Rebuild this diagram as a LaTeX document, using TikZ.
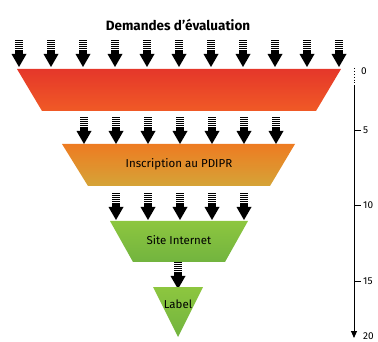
\documentclass[tikz,border=0pt]{standalone}
\usepackage{fontspec}
\setmainfont{Fira Sans}
\usetikzlibrary{arrows.meta}
\definecolor{redtop}{HTML}{E5372A}
\definecolor{redbot}{HTML}{F05A26}
\definecolor{orgtop}{HTML}{EE7B22}
\definecolor{orgbot}{HTML}{D5A437}
\definecolor{grntop}{HTML}{8DC63F}
\definecolor{grnbot}{HTML}{72B43F}
\tikzset{
  stagelabel/.style={font=\fontsize{11.5}{13}\selectfont, text=black, inner sep=0pt},
  ticklabel/.style={font=\fontsize{10}{12}\selectfont, anchor=west, inner sep=0pt},
  pics/flowarrow/.style={code={
    \foreach \yy in {0,2,4,6,8}{\fill[black] (-4,\yy) rectangle (4,\yy+1.1);}
    \fill[black] (-4,10) rectangle (4,14.5);
    \fill[black] (-7.5,14) -- (7.5,14) -- (0,27) -- cycle;
  }}
}
\begin{document}
\begin{tikzpicture}[x=1pt,y=-1pt]
\useasboundingbox (0,0) rectangle (378,342);
% title
\node[font=\bfseries\fontsize{13.5}{15}\selectfont] (title) at (178,25) {Demandes d'évaluation};
% row 1 arrows
\foreach \k in {-5,...,5}{\pic at (179+32*\k,40) {flowarrow};}
% stage 1
\shade[top color=redtop, bottom color=redbot] (17,69) -- (341,69) -- (316,111) -- (42,111) -- cycle;
\coordinate (s1) at (179,90);
% row 2 arrows
\foreach \k in {-3,...,3}{\pic at (180+32*\k,117) {flowarrow};}
% stage 2
\shade[top color=orgtop, bottom color=orgbot] (62,144) -- (295,144) -- (270,186) -- (88,186) -- cycle;
\node[stagelabel] (s2) at (179,164) {Inscription au PDIPR};
% row 3 arrows
\foreach \k in {-2,...,2}{\pic at (180+32*\k,193) {flowarrow};}
% stage 3
\shade[top color=grntop, bottom color=grnbot] (110,221) -- (248,221) -- (225,262) -- (133,262) -- cycle;
\node[stagelabel] (s3) at (179,240) {Site Internet};
% row 4 arrow
\pic at (178,262) {flowarrow};
% stage 4
\shade[top color=grntop, bottom color=grnbot] (153,287) -- (203,287) -- (178,337) -- cycle;
\node[stagelabel] (s4) at (178,304) {Label};
% axis
\coordinate (a0) at (354,68);
\coordinate (a1) at (354,86);
\coordinate (a2) at (354,338);
\draw[line width=0.9pt, dotted] (a0) -- (a1);
\draw[line width=0.9pt, -{Triangle[length=7pt,width=6pt]}] (a1) -- (a2);
\foreach \yy/\lab in {130/5,205/10,281/15}{
  \draw[line width=0.9pt] (354,\yy) -- (361,\yy);
  \node[ticklabel] at (363,\yy) {\lab};
}
\node[ticklabel] at (361,71) {0};
\node[ticklabel] at (363,336) {20};
\end{tikzpicture}
\end{document}
